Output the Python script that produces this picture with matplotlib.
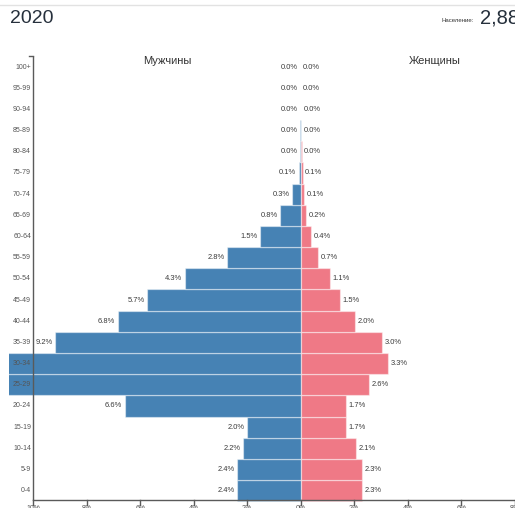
import matplotlib
matplotlib.use("Agg")
import matplotlib.pyplot as plt

# ---------------- data ----------------
ages = ["0-4", "5-9", "10-14", "15-19", "20-24", "25-29", "30-34", "35-39",
        "40-44", "45-49", "50-54", "55-59", "60-64", "65-69", "70-74",
        "75-79", "80-84", "85-89", "90-94", "95-99", "100+"]
male = [2.37, 2.38, 2.16, 1.99, 6.58, 11.0, 11.0, 9.17, 6.84, 5.73, 4.33,
        2.76, 1.51, 0.76, 0.31, 0.07, 0.03, 0.01, 0.0, 0.0, 0.0]
female = [2.30, 2.30, 2.08, 1.68, 1.68, 2.56, 3.27, 3.03, 2.03, 1.46, 1.08,
          0.66, 0.38, 0.21, 0.13, 0.07, 0.03, 0.01, 0.01, 0.0, 0.0]
x_ticks = [-10, -8, -6, -4, -2, 0, 2, 4, 6, 8, 10]
x_tick_labels = ["10%", "8%", "6%", "4%", "2%", "0%", "2%", "4%", "6%", "8%", "10%"]
year = "2020"
pop_label = "Население:"
pop_value = "2,88"
male_title = "Мужчины"
female_title = "Женщины"

# ---------------- layout ----------------
W, H = 515, 508
FONT = ["Liberation Sans", "DejaVu Sans"]
plt.rcParams["font.family"] = FONT

fig = plt.figure(figsize=(W / 100, H / 100), dpi=100)

PX_PER_PCT = 26.75
X0 = 300.7            # pixel of 0%
ROW0 = 490.7          # pixel y of first row centre
ROW_H = 21.18
AX_LEFT_PX = 9

def px2x(px):
    return (px - X0) / PX_PER_PCT

def py2y(py):
    return (ROW0 - py) / ROW_H

ax = fig.add_axes([AX_LEFT_PX / W, 0, (W - AX_LEFT_PX) / W, 1])
ax.set_xlim(px2x(AX_LEFT_PX), px2x(W))
ax.set_ylim(py2y(H), py2y(0))
ax.axis("off")

male_c = "#4682b4"
female_c = "#ef7986"
edge = (1, 1, 1, 0.45)
ypos = list(range(len(ages)))

ax.barh(ypos, [-v for v in male], height=1.0, color=male_c,
        edgecolor=edge, linewidth=0.9)
ax.barh(ypos, female, height=1.0, color=female_c,
        edgecolor=edge, linewidth=0.9)

off = 2.5 / PX_PER_PCT
lab_kw = dict(fontsize=5.4, color="#3a3a3a", va="center", clip_on=True)
for y, m, f in zip(ypos, male, female):
    ax.text(-m - off, y, f"{m:.1f}%", ha="right", **lab_kw)
    ax.text(f + off, y, f"{f:.1f}%", ha="left", **lab_kw)

# y axis (age labels)
axis_c = "#5a5a5a"
x_axis_left = px2x(33.2)
y_top = py2y(56.5)
y_bot = py2y(500.3)
ax.plot([x_axis_left, x_axis_left], [y_bot, y_top], color=axis_c, lw=1.0,
        solid_capstyle="butt")
ax.plot([px2x(29), x_axis_left], [y_top, y_top], color=axis_c, lw=1.0)
for y, a in zip(ypos, ages):
    ax.text(px2x(31), y, a, ha="right", va="center", fontsize=5.0,
            color="#555555")

# x axis
ax.plot([x_axis_left, px2x(W + 5)], [y_bot, y_bot], color=axis_c, lw=1.0,
        clip_on=False)
for t, tl in zip(x_ticks, x_tick_labels):
    ax.plot([t, t], [y_bot, py2y(504.5)], color=axis_c, lw=1.0, clip_on=True)
    ax.text(t, py2y(505), tl, ha="center", va="top", fontsize=5.0,
            color="#555555", clip_on=True)

# titles
fig.text(167 / W, 1 - 60.7 / H, male_title, ha="center", va="center",
         fontsize=8.0, color="#333333")
fig.text(434.7 / W, 1 - 60.7 / H, female_title, ha="center", va="center",
         fontsize=8.0, color="#333333")

# header
fig.text(10 / W, 1 - 23.3 / H, year, ha="left", va="baseline",
         fontsize=14, color="#26303c")
fig.text(441 / W, 1 - 22.3 / H, pop_label, ha="left", va="baseline",
         fontsize=4.3, color="#333333")
fig.text(480 / W, 1 - 23.3 / H, pop_value, ha="left", va="baseline",
         fontsize=14.5, color="#26303c")

# thin top rule
fig.add_artist(plt.Line2D([0, 1], [1 - 5.3 / H, 1 - 5.3 / H],
                          color="#e2e2e2", lw=1.0))

fig.savefig("out.png", dpi=100)
